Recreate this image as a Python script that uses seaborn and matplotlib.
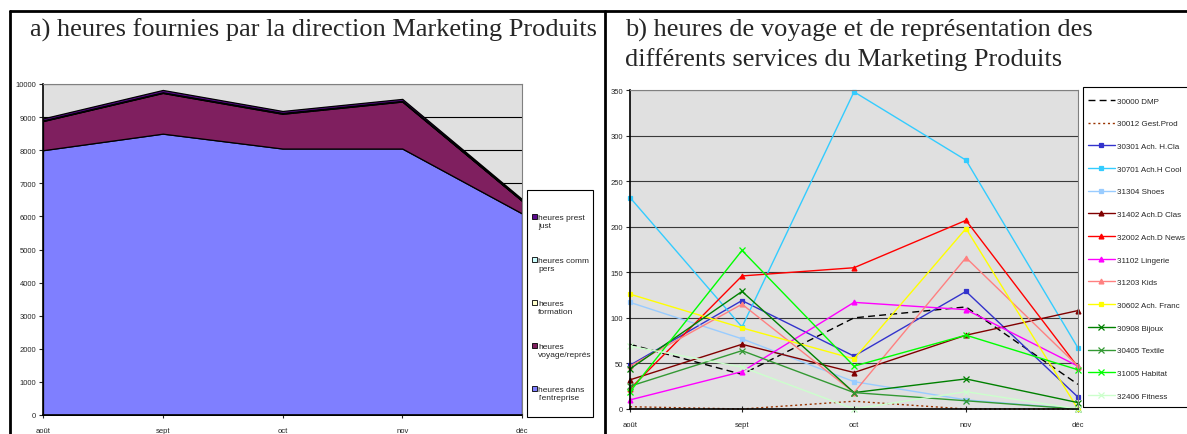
import numpy as np
import matplotlib.pyplot as plt
from matplotlib.patches import Patch, Rectangle
from matplotlib.lines import Line2D
from matplotlib.legend_handler import HandlerPatch
import seaborn as sns

sns.set_style("white")
plt.rcParams['font.family'] = ['Liberation Sans', 'DejaVu Sans']

months = ['août', 'sept', 'oct', 'nov', 'déc']

# a) heures fournies par la direction Marketing Produits (empilées)
h_entreprise = [8000, 8500, 8050, 8050, 6090]
h_voyage = [880, 1230, 1050, 1420, 380]
h_formation = [15, 15, 20, 15, 10]
h_comm = [5, 5, 5, 5, 5]
h_prest = [60, 70, 60, 60, 40]

# b) heures de voyage et de représentation par service
s_30000 = [71, 38, 100, 112, 27]
s_30012 = [2.5, 0, 8.5, 0, 0]
s_30301 = [48, 119, 58, 129, 13]
s_30701 = [232, 90, 348, 273, 67]
s_31304 = [117, 77, 30, 10, 0]
s_31402 = [32, 71, 40, 81, 108]
s_32002 = [22, 146, 155, 207, 46]
s_31102 = [10, 41, 117, 109, 47]
s_31203 = [47, 115, 18, 166, 47]
s_30602 = [126, 89, 55, 198, 0]
s_30908 = [44, 129, 18, 33, 7]
s_30405 = [25, 64, 18, 9, 0]
s_31005 = [19, 174, 47, 81, 43]
s_32406 = [69, 46, 0, 19, 0]

services = [
    ('30000 DMP', s_30000), ('30012 Gest.Prod', s_30012),
    ('30301 Ach. H.Cla', s_30301), ('30701 Ach.H Cool', s_30701),
    ('31304 Shoes', s_31304), ('31402 Ach.D Clas', s_31402),
    ('32002 Ach.D News', s_32002), ('31102 Lingerie', s_31102),
    ('31203 Kids', s_31203), ('30602 Ach. Franc', s_30602),
    ('30908 Bijoux', s_30908), ('30405 Textile', s_30405),
    ('31005 Habitat', s_31005), ('32406 Fitness', s_32406),
]

# colour, marker, marker size, linestyle per service
styles = {
    '30000 DMP': ('black', None, 0, (0, (5, 3))),
    '30012 Gest.Prod': ('#993300', None, 0, (0, (1.5, 2))),
    '30301 Ach. H.Cla': ('#3333CC', 's', 3.5, '-'),
    '30701 Ach.H Cool': ('#33CCFF', 's', 3.5, '-'),
    '31304 Shoes': ('#99CCFF', 's', 3.5, '-'),
    '31402 Ach.D Clas': ('#800000', '^', 3.5, '-'),
    '32002 Ach.D News': ('#FF0000', '^', 3.5, '-'),
    '31102 Lingerie': ('#FF00FF', '^', 3.5, '-'),
    '31203 Kids': ('#FF8080', '^', 3.5, '-'),
    '30602 Ach. Franc': ('#FFFF00', 's', 2.2, '-'),
    '30908 Bijoux': ('#008000', 'x', 3.8, '-'),
    '30405 Textile': ('#339933', 'x', 3.8, '-'),
    '31005 Habitat': ('#00FF00', 'x', 3.8, '-'),
    '32406 Fitness': ('#CCFFCC', 'x', 3.8, '-'),
}

W, H = 1187, 435
fig = plt.figure(figsize=(W / 100, H / 100), dpi=100)

def fx(px):
    return px / W

def fy(py):
    return 1 - py / H

# table borders
fig.add_artist(Line2D([fx(10), 1], [fy(12), fy(12)], color='black', lw=2))
fig.add_artist(Line2D([fx(10), fx(10)], [fy(12), 0], color='black', lw=2))
fig.add_artist(Line2D([fx(605), fx(605)], [fy(12), 0], color='black', lw=2))

serif = ['Liberation Serif', 'DejaVu Serif']
fig.text(fx(30), fy(37), 'a) heures fournies par la direction Marketing Produits',
         family=serif, fontsize=19, va='baseline')
fig.text(fx(625), fy(37), 'b) heures de voyage et de représentation des',
         family=serif, fontsize=19, va='baseline')
fig.text(fx(625), fy(66), 'différents services du Marketing Produits',
         family=serif, fontsize=19, va='baseline')

x = np.arange(len(months))
tick_fs = 5.5


def style_axes(ax):
    ax.set_facecolor('#E0E0E0')
    ax.set_xlim(0, 4)
    ax.set_xticks(x)
    ax.set_xticklabels(months, fontsize=tick_fs)
    for s in ['top', 'right']:
        ax.spines[s].set_color('#808080')
        ax.spines[s].set_linewidth(0.8)
    for s in ['left', 'bottom']:
        ax.spines[s].set_color('black')
        ax.spines[s].set_linewidth(1.2)
    ax.tick_params(axis='y', direction='out', length=3, width=0.8, labelsize=tick_fs, pad=2, left=True)
    ax.tick_params(axis='x', direction='inout', length=5, width=0.8, labelsize=tick_fs, pad=6, bottom=True)


# ---- a) stacked area
ax1 = fig.add_axes([fx(43), fy(416), fx(522) - fx(43), fy(85) - fy(416)])
style_axes(ax1)
area_cols = ['#7F7FFF', '#7F1F5F', '#FFFFCC', '#CCFFFF', '#5A0A8C']
ax1.stackplot(x, h_entreprise, h_voyage, h_formation, h_comm, h_prest,
              colors=area_cols, edgecolor='black', linewidth=0.9)
ax1.set_ylim(0, 10000)
ax1.set_yticks(np.arange(0, 10001, 1000))
ax1.set_axisbelow(True)
ax1.grid(axis='y', color='black', lw=0.8)
ax1.grid(axis='x', visible=False)


def top_square(legend, orig_handle, xdescent, ydescent, width, height, fontsize):
    s = 0.6 * fontsize
    return Rectangle((-xdescent, -ydescent + height - s), s, s)


area_labels = ['heures dans\nl\'entreprise', 'heures\nvoyage/représ', 'heures\nformation',
               'heures comm\npers', 'heures prest\njust']
handles = [Patch(facecolor=c, edgecolor='black', lw=0.6) for c in area_cols]
fig.add_artist(Rectangle((fx(527), fy(418)), fx(593) - fx(527), fy(191) - fy(418),
                         transform=fig.transFigure, fill=False, ec='black', lw=0.8, zorder=1))
leg1 = fig.legend(handles[::-1], area_labels[::-1], loc='upper left',
                  bbox_to_anchor=(fx(532), fy(215)), bbox_transform=fig.transFigure,
                  fontsize=6, frameon=False, borderaxespad=0, borderpad=0,
                  handlelength=0.6, handleheight=2.3, handletextpad=0.15,
                  labelspacing=3.35, alignment='left',
                  handler_map={Patch: HandlerPatch(patch_func=top_square)})

# ---- b) lines per service
ax2 = fig.add_axes([fx(630), fy(410), fx(1078) - fx(630), fy(91) - fy(410)])
style_axes(ax2)
for name, vals in services:
    col, mk, ms, ls = styles[name]
    sns.lineplot(x=x, y=vals, ax=ax2, color=col, marker=mk, linestyle=ls,
                 label=name, linewidth=1, markersize=ms, markeredgecolor=col,
                 markeredgewidth=0.9, clip_on=False, legend=False)
ax2.set_ylim(0, 350)
ax2.set_yticks(np.arange(0, 351, 50))
ax2.set_axisbelow(True)
ax2.grid(axis='y', color='#3A3A3A', lw=0.8)
ax2.grid(axis='x', visible=False)

fig.add_artist(Rectangle((fx(1083), fy(408)), fx(1195) - fx(1083), fy(88) - fy(408),
                         transform=fig.transFigure, fill=False, ec='black', lw=0.8, zorder=1))
leg2 = fig.legend(ax2.get_lines(), [n for n, _ in services], loc='upper left',
                  bbox_to_anchor=(fx(1088), fy(98)), bbox_transform=fig.transFigure,
                  fontsize=5.8, frameon=False, borderaxespad=0, borderpad=0,
                  handlelength=3.35, handletextpad=0.25, labelspacing=1.87)

fig.savefig('out.png', dpi=100)
